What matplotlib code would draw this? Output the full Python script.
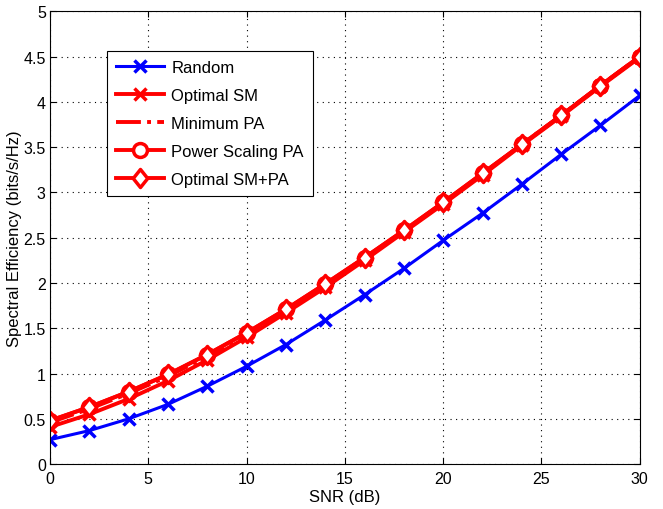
import matplotlib
matplotlib.use("Agg")
import matplotlib.pyplot as plt
from matplotlib.path import Path

plt.rcParams['font.family'] = ['Liberation Sans', 'DejaVu Sans']

snr = [0, 2, 4, 6, 8, 10, 12, 14, 16, 18, 20, 22, 24, 26, 28, 30]
random_se = [0.27, 0.37, 0.50, 0.66, 0.86, 1.08, 1.32, 1.59, 1.87, 2.16, 2.47, 2.77, 3.09, 3.42, 3.74, 4.07]
optimal_sm = [0.41, 0.55, 0.72, 0.92, 1.15, 1.40, 1.67, 1.95, 2.25, 2.56, 2.87, 3.19, 3.52, 3.84, 4.17, 4.49]
minimum_pa = [0.46, 0.61, 0.78, 0.97, 1.19, 1.43, 1.69, 1.97, 2.27, 2.57, 2.88, 3.20, 3.53, 3.85, 4.18, 4.50]
power_scaling = [0.48, 0.63, 0.80, 0.99, 1.21, 1.45, 1.71, 1.99, 2.28, 2.58, 2.89, 3.21, 3.53, 3.85, 4.18, 4.50]
optimal_smpa = [0.48, 0.63, 0.80, 0.99, 1.21, 1.45, 1.71, 1.99, 2.28, 2.58, 2.89, 3.21, 3.53, 3.85, 4.18, 4.50]

diamond = Path([(0, 1), (0.8, 0), (0, -1), (-0.8, 0), (0, 1)],
               [Path.MOVETO, Path.LINETO, Path.LINETO, Path.LINETO, Path.CLOSEPOLY])

fig = plt.figure(figsize=(6.63, 5.10), dpi=100)
ax = fig.add_axes([0.0754, 0.088, 0.8896, 0.888])

ax.plot(snr, random_se, color='blue', lw=2.2, marker='x', ms=8, mew=2.5, label='Random')
ax.plot(snr, optimal_sm, color='red', lw=2.8, marker='x', ms=8, mew=2.5, label='Optimal SM')
ax.plot(snr, minimum_pa, color='red', lw=2.8, ls='-.', label='Minimum PA')
ax.plot(snr, power_scaling, color='red', lw=2.8, marker='o', ms=10, mew=2.5, mfc='white', label='Power Scaling PA')
ax.plot(snr, optimal_smpa, color='red', lw=2.8, marker=diamond, ms=13, mew=2.5, mfc='white', label='Optimal SM+PA')

ax.set_xlim(0, 30)
ax.set_ylim(0, 5)
ax.set_xticks([0, 5, 10, 15, 20, 25, 30])
ax.set_yticks([0, 0.5, 1, 1.5, 2, 2.5, 3, 3.5, 4, 4.5, 5])
ax.set_yticklabels(['0', '0.5', '1', '1.5', '2', '2.5', '3', '3.5', '4', '4.5', '5'])
ax.grid(True, ls=(0, (1, 4)), color='black', lw=0.8)
ax.tick_params(direction='in', top=True, right=True, labelsize=11.5, length=4)
ax.tick_params(axis='y', pad=3)
ax.tick_params(axis='x', pad=5)
for s in ax.spines.values():
    s.set_linewidth(0.8)

ax.set_xlabel('SNR (dB)', fontsize=12, labelpad=2)
ax.set_ylabel('Spectral Efficiency (bits/s/Hz)', fontsize=12)
ax.yaxis.set_label_coords(-0.047, 0.5)

leg = ax.legend(loc='upper left', bbox_to_anchor=(0.0966, 0.912), fontsize=12,
                fancybox=False, edgecolor='black', framealpha=1, handlelength=2.9,
                handletextpad=0.4, borderpad=0.55, labelspacing=0.78, borderaxespad=0)
leg.get_frame().set_linewidth(0.8)

fig.savefig('out.png', dpi=100)
